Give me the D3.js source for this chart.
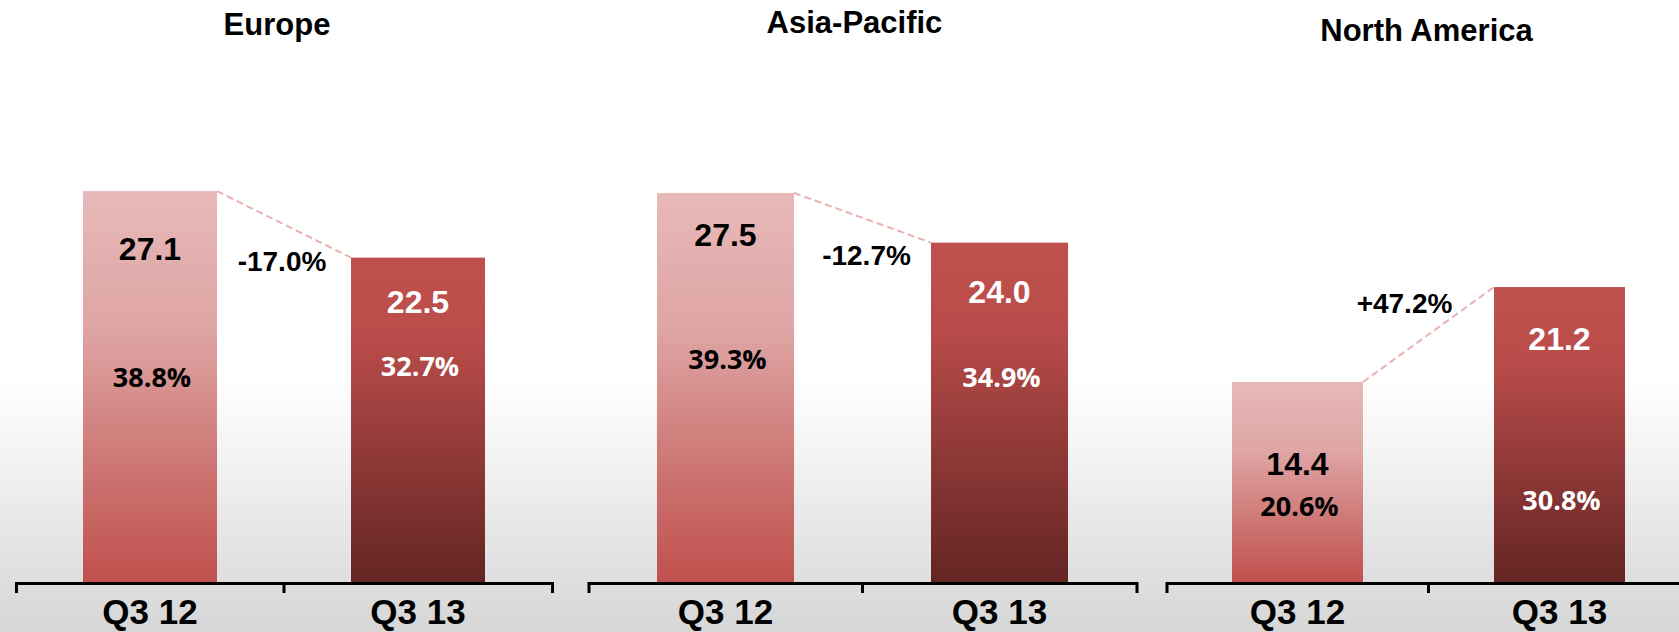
<!DOCTYPE html>
<html>
<head>
<meta charset="utf-8">
<script src="https://cdn.jsdelivr.net/npm/d3@7"></script>
<style>
  body { margin: 0; background: #fff; }
  svg { display: block; }
</style>
</head>
<body>
<div id="graph"></div>
<script>
// data
const regions = ["Europe", "Asia-Pacific", "North America"];
const quarters = ["Q3 12", "Q3 13"];
const values = [[27.1, 22.5], [27.5, 24.0], [14.4, 21.2]];
const shares = ["38.8%", "32.7%", "39.3%", "34.9%", "20.6%", "30.8%"];
const changes = ["-17.0%", "-12.7%", "+47.2%"];

// layout (not data)
let w = 1679;
let h = 632;
let axisY = 583;
let panelX = [16, 588.5, 1166.5];
let panelW = [536, 548, 524];
let yMax = [33.4, 34.06, 34.6];
let titleY = [35, 33, 41];
let titleDx = [-7, -8, -2];
let valueDy = [[69, 55], [53, 60], [93, 63]];
let shareY = [[387, 376], [369, 387], [516, 510]];
let changeDx = [-2, 4, -24];

const svg = d3.select("#graph")
              .append("svg")
              .attr("width", w)
              .attr("height", h);

const defs = svg.append("defs");

let bg = defs.append("linearGradient")
             .attr("id", "bg")
             .attr("x1", 0).attr("y1", 0)
             .attr("x2", 0).attr("y2", 1);
bg.append("stop").attr("offset", 0).attr("stop-color", "#ffffff");
bg.append("stop").attr("offset", 0.6).attr("stop-color", "#ffffff");
bg.append("stop").attr("offset", 1).attr("stop-color", "#d6d6d6");

let g1 = defs.append("linearGradient")
             .attr("id", "bar0")
             .attr("x1", 0).attr("y1", 0)
             .attr("x2", 0).attr("y2", 1);
g1.append("stop").attr("offset", 0).attr("stop-color", "#e7b9b8");
g1.append("stop").attr("offset", 0.35).attr("stop-color", "#dea5a4");
g1.append("stop").attr("offset", 0.7).attr("stop-color", "#cd7673");
g1.append("stop").attr("offset", 1).attr("stop-color", "#c0504d");

let g2 = defs.append("linearGradient")
             .attr("id", "bar1")
             .attr("x1", 0).attr("y1", 0)
             .attr("x2", 0).attr("y2", 1);
g2.append("stop").attr("offset", 0).attr("stop-color", "#c0504d");
g2.append("stop").attr("offset", 0.25).attr("stop-color", "#b94c4a");
g2.append("stop").attr("offset", 1).attr("stop-color", "#632523");

svg.append("rect")
   .attr("width", w)
   .attr("height", h)
   .attr("fill", "url(#bg)");

regions.forEach((region, i) => {

  const xScale = d3.scaleBand()
                   .domain(quarters)
                   .range([panelX[i], panelX[i] + panelW[i]])
                   .paddingInner(0.5)
                   .paddingOuter(0.25);

  const yScale = d3.scaleLinear()
                   .domain([0, yMax[i]])
                   .range([axisY, 100]);

  const panel = svg.append("g").attr("class", "panel");

  let mid = panelX[i] + panelW[i] / 2;

  panel.append("text")
       .attr("x", mid + titleDx[i])
       .attr("y", titleY[i])
       .attr("text-anchor", "middle")
       .style("font-family", "'Liberation Sans', Arial, sans-serif")
       .style("font-weight", "bold")
       .style("font-size", "31px")
       .text(region);

  let rows = quarters.map((q, j) => ({ q: q, v: values[i][j], j: j }));

  panel.selectAll(".bar")
       .data(rows)
       .enter()
       .append("rect")
       .attr("class", "bar")
       .attr("x", d => xScale(d.q))
       .attr("y", d => yScale(d.v))
       .attr("width", xScale.bandwidth())
       .attr("height", d => axisY - yScale(d.v))
       .attr("fill", d => "url(#bar" + d.j + ")");

  // dashed connector between the bar tops
  panel.append("line")
       .attr("x1", xScale(quarters[0]) + xScale.bandwidth())
       .attr("y1", yScale(values[i][0]))
       .attr("x2", xScale(quarters[1]))
       .attr("y2", yScale(values[i][1]))
       .attr("stroke", "#e8b2b0")
       .attr("stroke-width", 2)
       .attr("stroke-dasharray", "7,4");

  panel.selectAll(".val")
       .data(rows)
       .enter()
       .append("text")
       .attr("class", "val")
       .attr("x", d => xScale(d.q) + xScale.bandwidth() / 2)
       .attr("y", d => yScale(d.v) + valueDy[i][d.j])
       .attr("text-anchor", "middle")
       .attr("fill", d => d.j == 0 ? "#000" : "#fff")
       .style("font-family", "'Liberation Sans', Arial, sans-serif")
       .style("font-weight", "bold")
       .style("font-size", "32px")
       .text(d => d.v.toFixed(1));

  panel.selectAll(".share")
       .data(rows)
       .enter()
       .append("text")
       .attr("class", "share")
       .attr("x", d => xScale(d.q) + xScale.bandwidth() / 2 + 2)
       .attr("y", d => shareY[i][d.j])
       .attr("text-anchor", "middle")
       .attr("fill", d => d.j == 0 ? "#000" : "#fff")
       .style("font-family", "'Open Sans', sans-serif")
       .style("font-weight", "bold")
       .style("font-size", "27px")
       .text(d => shares[i * 2 + d.j]);

  let lineMidY = (yScale(values[i][0]) + yScale(values[i][1])) / 2;
  let up = values[i][1] > values[i][0];

  panel.append("text")
       .attr("x", mid + changeDx[i])
       .attr("y", up ? lineMidY - 22 : lineMidY + 47)
       .attr("text-anchor", "middle")
       .style("font-family", "'Liberation Sans', Arial, sans-serif")
       .style("font-weight", "bold")
       .style("font-size", "28px")
       .text(changes[i]);

  const xAxis = d3.axisBottom()
                  .scale(xScale)
                  .tickSizeInner(0)
                  .tickSizeOuter(10);

  let ax = panel.append("g")
                .attr("class", "x-axis")
                .attr("transform", "translate(0, " + axisY + ")")
                .call(xAxis);

  ax.select(".domain")
    .attr("stroke", "#000")
    .attr("stroke-width", 3);

  ax.append("line")
    .attr("x1", mid).attr("x2", mid)
    .attr("y1", 0).attr("y2", 10)
    .attr("stroke", "#000")
    .attr("stroke-width", 3);

  ax.selectAll(".tick text")
    .attr("y", 41)
    .attr("dy", 0)
    .attr("fill", "#000")
    .style("font-family", "'Liberation Sans Narrow', 'Arial Narrow', sans-serif")
    .style("font-weight", "bold")
    .style("font-size", "35px");

});
</script>
</body>
</html>
